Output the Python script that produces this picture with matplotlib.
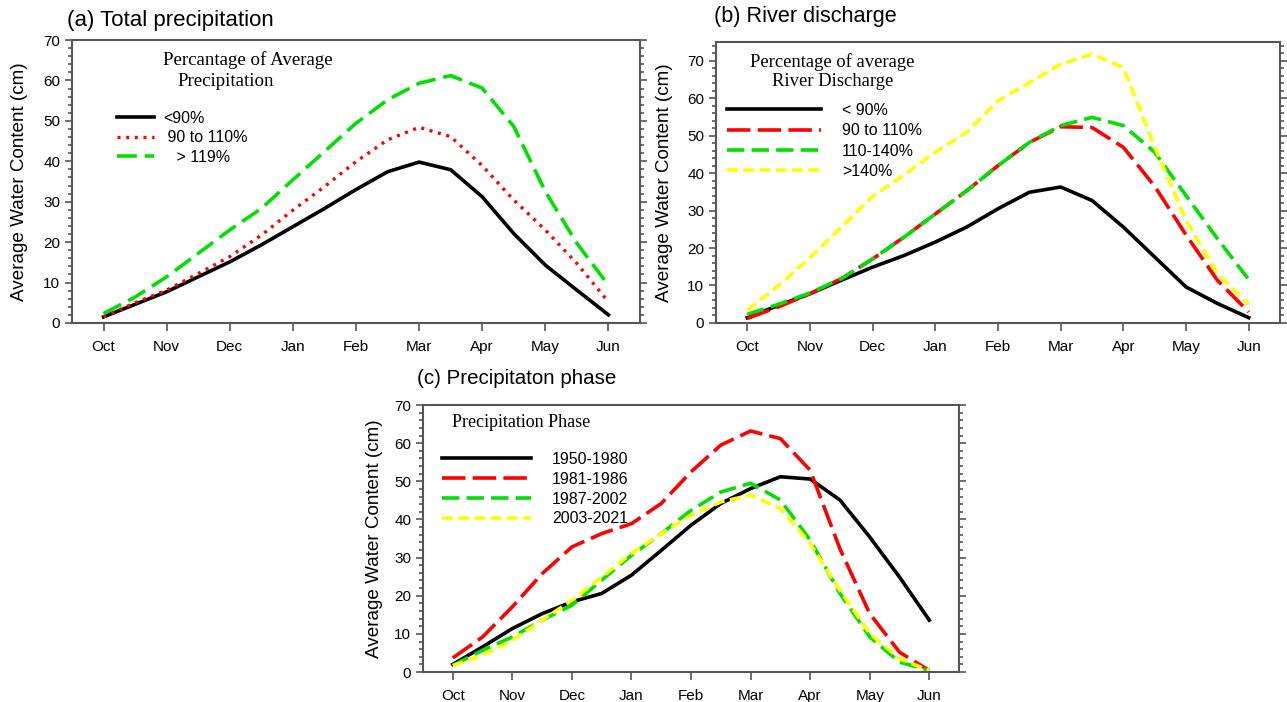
import numpy as np
import matplotlib.pyplot as plt
from matplotlib.ticker import MultipleLocator

months = ["Oct", "Nov", "Dec", "Jan", "Feb", "Mar", "Apr", "May", "Jun"]
# values read every half month, Oct .. Jun
x = np.arange(17) / 2

# (a) total precipitation
prec_lt90 = [1.5, 4.6, 7.7, 11.4, 15.1, 19.3, 23.8, 28.3, 33.0, 37.4, 39.8, 37.9, 31.2, 22.1, 14.3, 8.1, 2.0]
prec_90_110 = [1.5, 5.0, 8.1, 12.2, 16.4, 21.7, 27.9, 33.7, 39.9, 45.3, 48.4, 46.1, 38.9, 30.4, 23.0, 14.7, 5.2]
prec_gt119 = [2.3, 6.4, 11.4, 17.2, 23.0, 28.3, 35.4, 42.4, 49.4, 55.2, 59.3, 61.2, 58.1, 48.6, 32.5, 19.7, 9.3]

# (b) river discharge
dis_lt90 = [1.4, 4.7, 7.8, 11.4, 14.9, 18.0, 21.6, 25.6, 30.5, 34.9, 36.3, 32.7, 25.6, 17.6, 9.6, 5.2, 1.4]
dis_90_110 = [1.2, 4.3, 7.8, 11.8, 17.1, 22.9, 29.1, 35.3, 42.0, 48.2, 52.4, 52.2, 46.9, 36.5, 23.5, 11.4, 2.9]
dis_110_140 = [2.3, 5.0, 8.0, 11.8, 17.1, 22.9, 29.1, 35.3, 42.0, 48.2, 52.7, 54.9, 52.7, 45.6, 34.0, 22.5, 11.6]
dis_gt140 = [3.4, 10.0, 17.4, 25.6, 33.8, 39.5, 45.6, 50.9, 59.3, 64.2, 69.1, 71.8, 68.2, 47.0, 27.4, 13.1, 5.0]

# (c) precipitation phase
ph_1950_1980 = [2.0, 6.6, 11.4, 15.3, 18.4, 20.6, 25.4, 31.9, 38.5, 44.2, 48.1, 51.2, 50.6, 45.1, 35.4, 24.9, 13.6]
ph_1981_1986 = [3.7, 9.2, 17.1, 25.8, 32.8, 36.3, 38.9, 44.2, 52.5, 59.5, 63.2, 61.2, 52.9, 32.3, 15.3, 5.2, 0.4]
ph_1987_2002 = [1.7, 5.7, 9.2, 13.6, 17.5, 24.1, 30.6, 36.3, 42.4, 47.2, 49.5, 45.1, 34.6, 20.6, 9.2, 2.6, 0.4]
ph_2003_2021 = [1.7, 4.4, 8.3, 13.6, 18.8, 24.9, 31.1, 36.3, 41.1, 44.6, 46.4, 42.9, 33.7, 21.4, 10.1, 3.5, 0.4]

plt.rcParams['font.family'] = ['Liberation Sans', 'DejaVu Sans']
serif = 'Liberation Serif'
spine_col = '#555555'

fig = plt.figure(figsize=(12.87, 7.02), dpi=100)
ax_a = fig.add_axes([0.0559, 0.540, 0.4414, 0.403])
ax_b = fig.add_axes([0.5563, 0.540, 0.4383, 0.400])
ax_c = fig.add_axes([0.3287, 0.0427, 0.4165, 0.3803])


def style_axes(ax, ymax):
    ax.set_xlim(-0.5, 8.5)
    ax.set_ylim(0, ymax)
    ax.set_xticks(range(9))
    ax.set_xticklabels(months)
    ax.yaxis.set_major_locator(MultipleLocator(10))
    ax.yaxis.set_minor_locator(MultipleLocator(2))
    ax.tick_params(axis='y', which='both', direction='out', left=True, right=True,
                   labelsize=11, color=spine_col, width=1.2)
    ax.tick_params(axis='y', which='major', length=5)
    ax.tick_params(axis='y', which='minor', length=3)
    ax.tick_params(axis='x', direction='out', length=6, color=spine_col, width=1.2,
                   labelsize=11, pad=6)
    for s in ax.spines.values():
        s.set_color(spine_col)
        s.set_linewidth(1.5)
    ax.set_ylabel('Average Water Content (cm)', fontsize=13.6)
    ax.yaxis.set_label_coords(-0.077, 0.5)


lw = 2.6

# panel a
ax_a.plot(x, prec_lt90, color='black', lw=lw, label='<90%')
ax_a.plot(x, prec_90_110, color='red', lw=2.4, ls=(0, (0.9, 1.7)), label=' 90 to 110%')
ax_a.plot(x, prec_gt119, color='#00e000', lw=lw, ls=(0, (5.5, 2.2)), label='   > 119%')
style_axes(ax_a, 70)
ax_a.text(0.160, 0.929, 'Percantage of Average', family=serif, fontsize=13.6,
          transform=ax_a.transAxes, va='center')
ax_a.text(0.185, 0.852, 'Precipitation', family=serif, fontsize=13.6,
          transform=ax_a.transAxes, va='center')
ax_a.legend(loc='upper left', bbox_to_anchor=(0.079, 0.749), frameon=False, fontsize=11.5,
            handlelength=2.3, handletextpad=0.6, labelspacing=0.28,
            borderpad=0, borderaxespad=0)

# panel b
ax_b.plot(x, dis_lt90, color='black', lw=lw, label='< 90%')
ax_b.plot(x, dis_90_110, color='red', lw=lw, ls=(0, (6.5, 2)), label='90 to 110%')
ax_b.plot(x, dis_110_140, color='#00e000', lw=lw, ls=(0, (4.8, 2)), label='110-140%')
ax_b.plot(x, dis_gt140, color='#ffff00', lw=lw, ls=(0, (3, 1.5)), label='>140%')
style_axes(ax_b, 75)
ax_b.text(0.206, 0.929, 'Percentage of average', family=serif, fontsize=13.4,
          transform=ax_b.transAxes, va='center', ha='center')
ax_b.text(0.206, 0.858, 'River Discharge', family=serif, fontsize=13.4,
          transform=ax_b.transAxes, va='center', ha='center')
ax_b.legend(loc='upper left', bbox_to_anchor=(0.0195, 0.783), frameon=False, fontsize=11.5,
            handlelength=5.9, handletextpad=1.3, labelspacing=0.33,
            borderpad=0, borderaxespad=0)

# panel c
ax_c.plot(x, ph_1950_1980, color='black', lw=lw, label='1950-1980')
ax_c.plot(x, ph_1981_1986, color='red', lw=lw, ls=(0, (6.5, 2)), label='1981-1986')
ax_c.plot(x, ph_1987_2002, color='#00e000', lw=lw, ls=(0, (4.8, 2)), label='1987-2002')
ax_c.plot(x, ph_2003_2021, color='#ffff00', lw=lw, ls=(0, (3, 1.5)), label='2003-2021')
style_axes(ax_c, 70)
ax_c.yaxis.set_label_coords(-0.075, 0.5)
ax_c.text(0.054, 0.933, 'Precipitation Phase', family=serif, fontsize=13,
          transform=ax_c.transAxes, va='center')
ax_c.legend(loc='upper left', bbox_to_anchor=(0.035, 0.824), frameon=False, fontsize=11.5,
            handlelength=5.6, handletextpad=1.3, labelspacing=0.3,
            borderpad=0, borderaxespad=0)

fig.text(0.0521, 0.9715, '(a) Total precipitation', fontsize=16, va='center')
fig.text(0.5544, 0.977, '(b) River discharge', fontsize=15.6, va='center')
fig.text(0.324, 0.4615, '(c) Precipitaton phase', fontsize=14.8, va='center')

fig.savefig('out.png', dpi=100)
